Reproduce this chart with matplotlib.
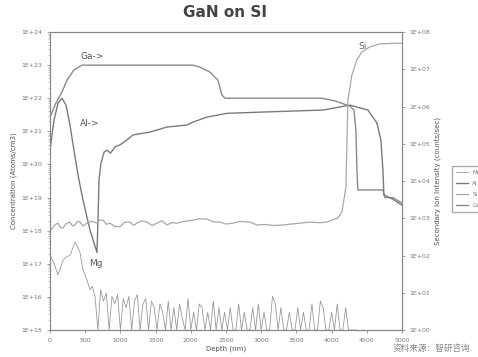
import numpy as np
import matplotlib.pyplot as plt
from matplotlib.ticker import FuncFormatter, LogLocator, NullFormatter

plt.rcParams['font.family'] = ['DejaVu Sans', 'Noto Sans CJK SC']

# Ga et Al : concentration (atomes/cm3), axe de gauche
ga_depth = [14, 71, 170, 241, 340, 454, 1000, 1500, 2030, 2130, 2270, 2386, 2442, 2485,
            3000, 3500, 3862, 4047, 4260, 4317, 4345, 4360, 4373, 4729, 4757, 4870, 5000]
ga_conc = [3.1e21, 6.3e21, 1.55e22, 3.5e22, 7.1e22, 1.0e23, 1.0e23, 1.0e23, 1.0e23, 8.7e22,
           6.2e22, 3.5e22, 1.26e22, 1.0e22, 1.0e22, 1.0e22, 1.0e22, 8.3e21, 5.8e21, 4.4e21,
           1.1e21, 6.8e19, 1.7e19, 1.7e19, 1.0e19, 1.0e19, 6.8e18]

al_depth = [0, 57, 114, 170, 227, 284, 340, 398, 469, 568, 667, 682, 696, 724, 770, 810, 860,
            923, 994, 1093, 1179, 1420, 1661, 1945, 2030, 2229, 2513, 2982, 3877, 4260, 4516,
            4643, 4700, 4729, 4743, 4870, 5000]
al_conc = [2.7e20, 2.2e21, 7.1e21, 1.0e22, 6.3e21, 1.55e21, 2.7e20, 4.8e19, 8.3e18, 1.05e18,
           2.2e17, 2.1e18, 3.4e19, 1.1e20, 2.4e20, 2.7e20, 2.2e20, 3.4e20, 3.9e20, 5.5e20,
           7.8e20, 9.5e20, 1.35e21, 1.55e21, 1.9e21, 2.7e21, 3.5e21, 3.8e21, 4.4e21, 6.2e21,
           4.4e21, 1.8e21, 5.5e20, 6.8e19, 1.2e19, 8.9e18, 5.9e18]

# Si et Mg : intensité (coups/s), axe de droite
si_depth = [14, 60, 114, 150, 185, 230, 284, 320, 355, 390, 426, 470, 525, 600, 667, 710,
            753, 800, 852, 920, 994, 1060, 1136, 1190, 1235, 1300, 1378, 1450, 1520, 1590,
            1661, 1730, 1803, 1900, 2030, 2130, 2229, 2320, 2414, 2500, 2599, 2700, 2840,
            2940, 3050, 3180, 3310, 3430, 3551, 3700, 3820, 3935, 4090, 4147, 4175, 4203,
            4232, 4289, 4360, 4430, 4544, 4686, 4928, 5000]
si_int = [480, 640, 740, 560, 550, 720, 790, 620, 660, 820, 790, 620, 740, 830, 740, 900,
          890, 690, 740, 600, 590, 780, 790, 640, 740, 850, 790, 640, 740, 860, 660, 760,
          740, 820, 890, 970, 950, 800, 790, 700, 740, 820, 790, 660, 680, 640, 660, 700,
          740, 790, 760, 790, 1020, 1480, 3100, 6800, 1.5e6, 7.1e6, 1.8e7, 2.9e7, 4.0e7,
          4.8e7, 5.0e7, 5.0e7]

mg_head_depth = [14, 60, 114, 185, 240, 284, 355, 400, 426, 470, 525, 568]
mg_head_int = [90, 60, 30, 75, 95, 100, 230, 160, 120, 40, 22, 12]
mg_tail_int = [15, 8, 1, 12, 6, 10, 1, 8, 5, 9, 1, 7, 4, 8, 1, 6, 9, 1, 5, 7, 1, 6, 4,
               1, 5, 3, 1, 6, 1, 4, 1, 5, 2, 1, 7, 1, 3, 1, 5, 4, 1, 3, 1, 6, 1, 4, 1, 3,
               1, 4, 1, 1, 5, 1, 3, 1, 1, 4, 1, 5, 1, 3, 1, 1, 8, 5, 1, 4, 1, 1, 3, 1, 1,
               4, 1, 3, 1, 1, 5, 1, 1, 6, 4, 1, 1, 3, 1, 5, 1, 1, 4, 1, 1, 1, 1]
mg_tail_depth = list(range(600, 4361, 40))
mg_depth = mg_head_depth + mg_tail_depth
mg_int = mg_head_int + mg_tail_int

x_ticks = [0, 500, 1000, 1500, 2000, 2500, 3000, 3500, 4000, 4500, 5000]

fig = plt.figure(figsize=(4.78, 3.57), dpi=100)
ax = fig.add_axes([0.1046, 0.0756, 0.7364, 0.8347])
ax2 = ax.twinx()

ax.semilogy(ga_depth, ga_conc, color='#8a8a8a', lw=1.0, label='Ga')
ax.semilogy(al_depth, al_conc, color='#7a7a7a', lw=1.0, label='Al')
ax2.semilogy(si_depth, si_int, color='#a8a8a8', lw=0.9, label='Si')
ax2.semilogy(mg_depth, mg_int, color='#9a9a9a', lw=0.6, label='Mg')

ax.set_xlim(0, 5000)
ax.set_ylim(1e15, 1e24)
ax2.set_ylim(1, 1e8)
ax.set_xticks(x_ticks)

fmt = FuncFormatter(lambda v, p: "1E+%02d" % int(round(np.log10(v))))
ax.yaxis.set_major_locator(LogLocator(base=10, numticks=12))
ax.yaxis.set_major_formatter(fmt)
ax.yaxis.set_minor_formatter(NullFormatter())
ax2.yaxis.set_major_locator(LogLocator(base=10, numticks=12))
ax2.yaxis.set_major_formatter(fmt)
ax2.yaxis.set_minor_locator(LogLocator(base=10, subs=[], numticks=12))

for a in (ax, ax2):
    a.tick_params(labelsize=4.5, colors='#777777', length=2, width=0.5)
    a.tick_params(which='minor', length=1.2, width=0.4, colors='#999999')
    for s in a.spines.values():
        s.set_color('#888888')
        s.set_linewidth(0.8)

ax.set_xlabel('Depth (nm)', fontsize=5, color='#555555', labelpad=2)
ax.set_ylabel('Concentration (Atoms/cm3)', fontsize=5, color='#555555', labelpad=3)
ax2.set_ylabel('Secondary Ion Intensity (counts/sec)', fontsize=5, color='#555555', labelpad=3)

fig.suptitle('GaN on SI', x=0.47, y=0.985, fontsize=11, fontweight='bold', color='#444444')

ax.text(430, 1.5e23, 'Ga->', fontsize=6.5, color='#555555')
ax.text(420, 1.5e21, 'Al->', fontsize=6.5, color='#555555')
ax.text(560, 8.5e16, 'Mg', fontsize=6.5, color='#555555')
ax.text(4380, 3.0e23, 'Si', fontsize=6.5, color='#666666')

handles = [ax2.lines[1], ax.lines[1], ax2.lines[0], ax.lines[0]]
fig.legend(handles, ['Mg', 'Al', 'Si', 'Ga'], loc='upper left',
           bbox_to_anchor=(449 / 478, 1 - 163 / 357), fontsize=4, frameon=True,
           fancybox=False, edgecolor='#999999', handlelength=2.2, borderpad=0.7,
           labelspacing=1.1, labelcolor='#777777')

fig.text(0.984, 0.012, '资料来源：智研咨询', ha='right', va='bottom', fontsize=6.2,
         color='#888888', family=['Noto Sans CJK SC', 'DejaVu Sans'])

fig.savefig('out.png', dpi=100)
